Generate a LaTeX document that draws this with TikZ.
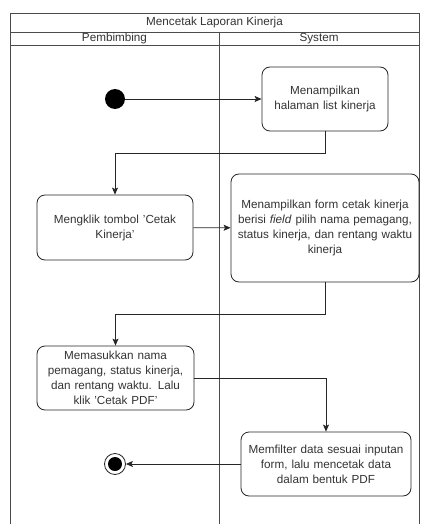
\documentclass[tikz,border=0pt]{standalone}
\usepackage{fontspec}
\setmainfont{Liberation Sans}
\usetikzlibrary{arrows.meta,positioning}

\tikzset{
  teks/.style={text=black!80, font=\fontsize{11.7}{15}\selectfont},
  aksi/.style={teks, draw=black!85, thick, rounded corners=8pt, align=center, inner sep=1pt},
  alur/.style={draw=black!85, thick, -{Stealth[length=7pt,width=6pt,inset=1.5pt]}},
  garis/.style={draw=black!70, thick}
}

\begin{document}
\begin{tikzpicture}[x=1pt, y=-1pt]
        \useasboundingbox (0,0) rectangle (420,524);
        % Kerangka swimlane
        \draw[garis] (10,524) -- (10,13) -- (419.5,13) -- (419.5,524);
        \draw[garis] (10,32) -- (419.5,32);
        \draw[garis] (10,45) -- (419.5,45);
        \draw[garis] (219,32) -- (219,524);
        \node[teks] (judul) at (214.5,22.5) {Mencetak Laporan Kinerja};
        \node[teks] (pembimbing) at (114.5,38.5) {Pembimbing};
        \node[teks] (sistem) at (319,38.5) {System};

        % Aktivitas
        \node[circle, fill=black, minimum size=20pt, inner sep=0pt] (mulai) at (115,99) {};
        \node[aksi, minimum width=126pt, minimum height=64pt, text width=124pt] (lihat) at (325,99)
            {Menampilkan\\halaman list kinerja};
        \node[aksi, minimum width=156pt, minimum height=65pt, text width=154pt] (klik) at (115,227.5)
            {Mengklik tombol 'Cetak\\Kinerja'};
        \node[aksi, minimum width=188pt, minimum height=108pt, text width=188pt, inner sep=0pt] (form) at (325,228)
            {Menampilkan form cetak kinerja\\berisi \textit{field} pilih nama pemagang,\\status kinerja, dan rentang waktu\\kinerja};
        \node[aksi, minimum width=157pt, minimum height=64pt, text width=155pt] (isi) at (115.5,378)
            {Memasukkan nama\\pemagang, status kinerja,\\dan rentang waktu. Lalu\\klik 'Cetak PDF'};
        \node[aksi, minimum width=170pt, minimum height=64pt, text width=168pt] (filter) at (326,464)
            {Memfilter data sesuai inputan\\form, lalu mencetak data\\dalam bentuk PDF};
        \node[circle, draw=black!85, thick, fill=white, minimum size=21pt, inner sep=0pt] (akhir) at (115,464) {};
        \fill[black] (akhir.center) circle (7pt);

        % Alur
        \draw[alur] (mulai) -- (lihat);
        \draw[alur] (lihat.south) -- ++(0,22) -| (klik.north);
        \draw[alur] (klik) -- (form);
        \draw[alur] (form.south) -- ++(0,32) -| (isi.north);
        \draw[alur] (isi.east) -| (filter.north);
        \draw[alur] (filter) -- (akhir);
    \end{tikzpicture}
\end{document}
